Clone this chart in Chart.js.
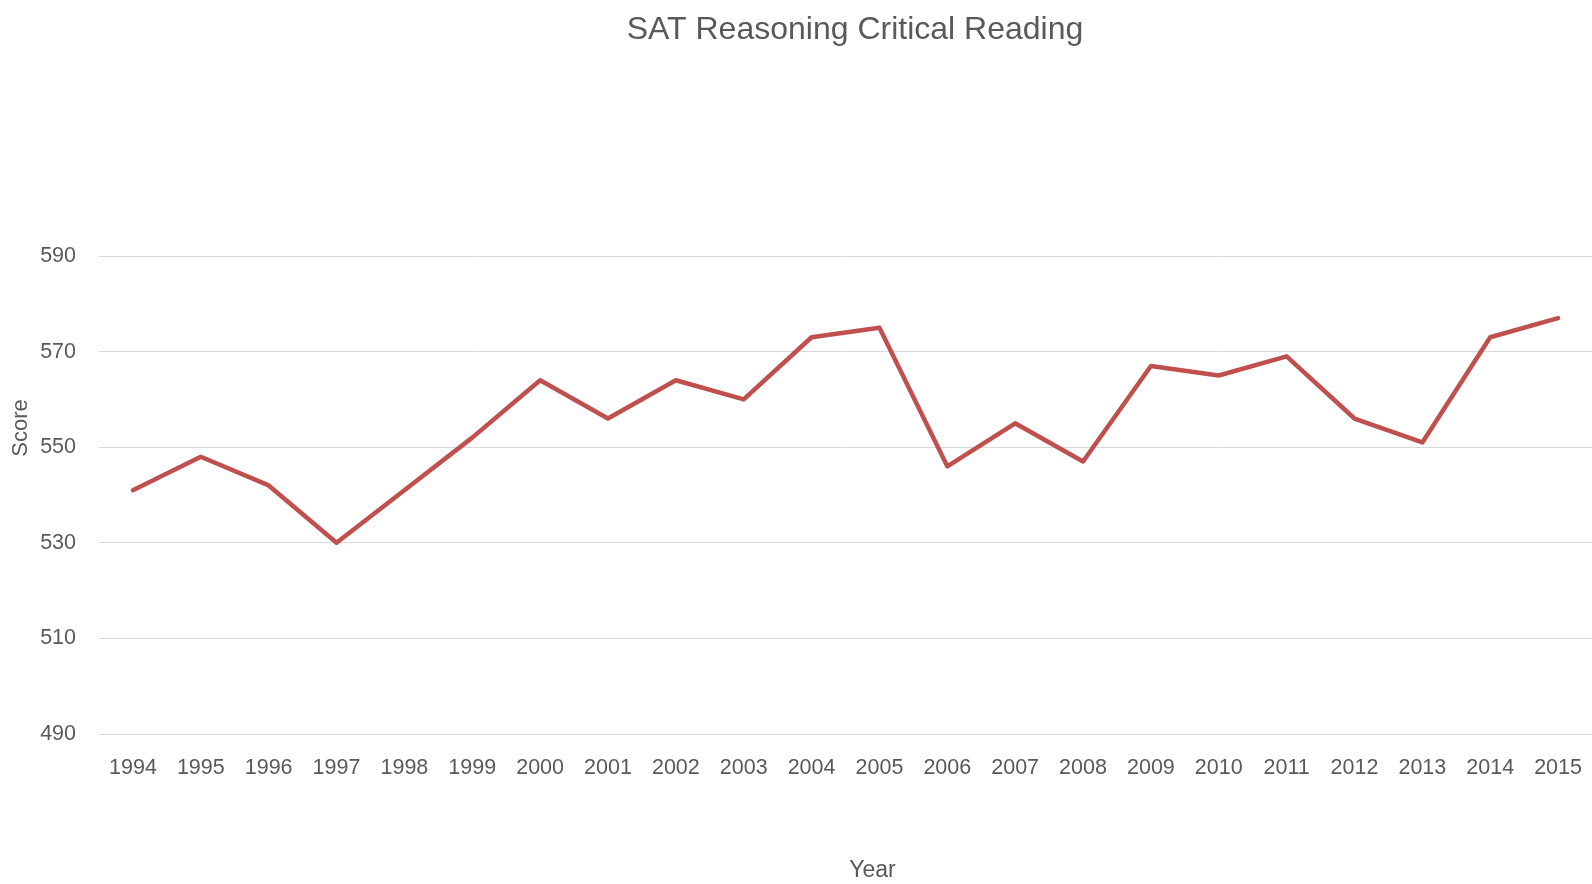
<!DOCTYPE html>
<html>
<head>
<meta charset="utf-8">
<script src="https://cdn.jsdelivr.net/npm/chart.js@4/dist/chart.umd.min.js"></script>
<style>
  html, body { margin: 0; padding: 0; background: #fff; }
  #wrap { width: 1592px; height: 884px; position: relative; }
</style>
</head>
<body>
<div id="wrap"><canvas id="c"></canvas></div>
<script>
const years = ['1994','1995','1996','1997','1998','1999','2000','2001','2002','2003','2004',
               '2005','2006','2007','2008','2009','2010','2011','2012','2013','2014','2015'];
const scores = [541, 548, 542, 530, 541, 552, 564, 556, 564, 560, 573,
                575, 546, 555, 547, 567, 565, 569, 556, 551, 573, 577];
const yTicks = [490, 510, 530, 550, 570, 590];

const FONT = "'Liberation Sans', Arial, sans-serif";
const TXT = '#595959';

// Shift title blocks to match the original's placement
const shiftTitles = {
  id: 'shiftTitles',
  afterLayout(chart) {
    const t = chart.titleBlock;
    if (t) { t.left += 59; t.right += 59; }
    const x = chart.scales.x;
    if (x) { x.left += 27; x.right += 27; }
    const y = chart.scales.y;
    if (y) { y.top -= 134; }
  }
};

new Chart(document.getElementById('c'), {
  type: 'line',
  data: {
    labels: years,
    datasets: [{
      label: 'Score',
      data: scores,
      borderColor: '#C0504D',
      backgroundColor: '#C0504D',
      borderWidth: 4.5,
      pointRadius: 0,
      tension: 0,
      borderCapStyle: 'round',
      borderJoinStyle: 'round'
    }]
  },
  plugins: [shiftTitles],
  options: {
    responsive: true,
    maintainAspectRatio: false,
    animation: false,
    layout: { padding: 0 },
    plugins: {
      legend: { display: false },
      tooltip: { enabled: false },
      title: {
        display: true,
        text: 'SAT Reasoning Critical Reading',
        color: TXT,
        font: { family: FONT, size: 32, weight: 'normal' },
        padding: { top: 11, bottom: 206.6 }
      }
    },
    scales: {
      x: {
        type: 'category',
        offset: true,
        grid: { display: false, drawTicks: false },
        border: { display: false },
        ticks: { color: TXT, font: { family: FONT, size: 21.5 }, padding: 21, maxRotation: 0, autoSkip: false },
        title: { display: true, text: 'Year', color: TXT, font: { family: FONT, size: 23 }, padding: { top: 0, bottom: 0 } },
        afterFit: s => { s.height = 150; s.paddingLeft = 0; s.paddingRight = 0; }
      },
      y: {
        min: 490,
        max: 590,
        afterBuildTicks: s => { s.ticks = yTicks.map(v => ({ value: v })); },
        grid: { color: '#D9D9D9', lineWidth: 1, drawTicks: false },
        border: { display: false },
        ticks: { color: TXT, font: { family: FONT, size: 21.5 }, padding: 23 },
        title: { display: true, text: 'Score', color: TXT, font: { family: FONT, size: 22 }, padding: { top: 8, bottom: 0 } },
        afterFit: s => { s.width = 99; }
      }
    }
  }
});
</script>
</body>
</html>
